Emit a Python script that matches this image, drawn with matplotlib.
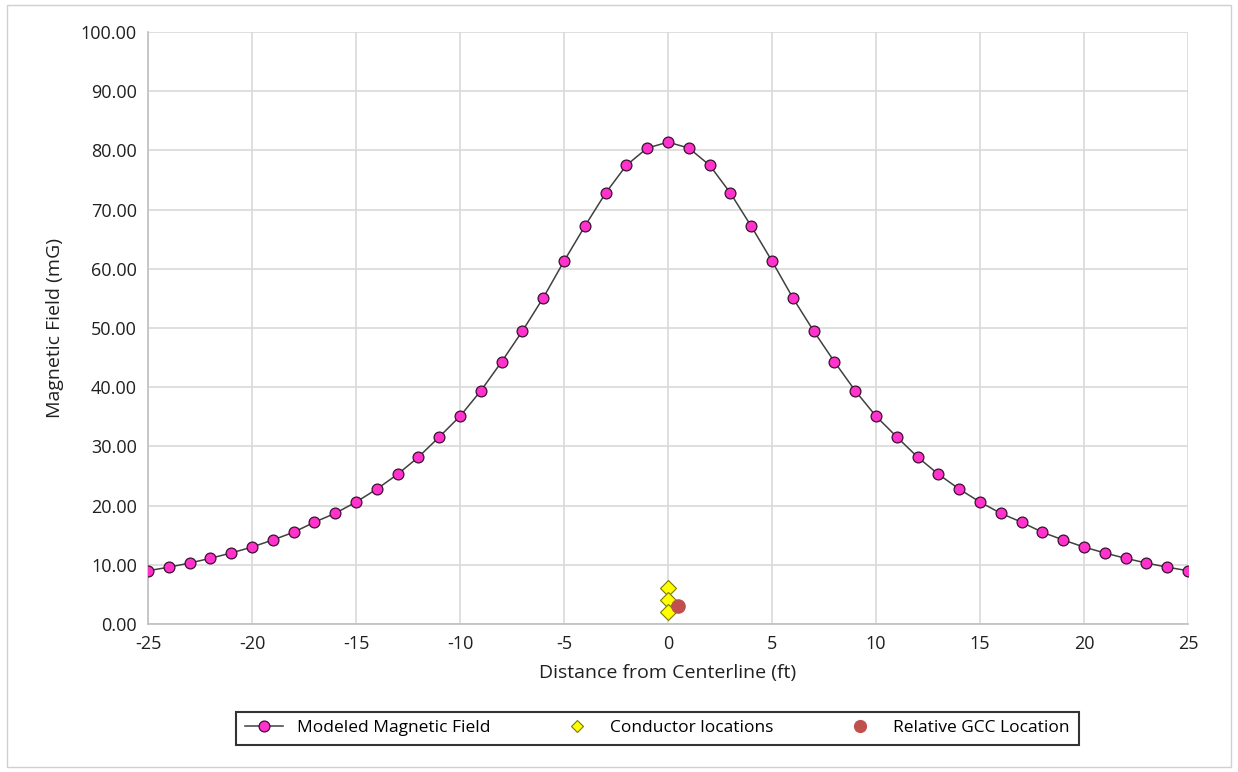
import matplotlib.pyplot as plt
from matplotlib.patches import Rectangle
import numpy as np

plt.rcParams['font.family'] = ['Open Sans', 'DejaVu Sans']
plt.rcParams['axes.unicode_minus'] = False

# modeled field profile
distance = list(range(-25, 26))
field_left = [9.0, 9.6, 10.3, 11.1, 12.0, 13.0, 14.2, 15.5, 17.2, 18.7,
              20.6, 22.8, 25.3, 28.2, 31.6, 35.1, 39.4, 44.3, 49.5, 55.1,
              61.3, 67.2, 72.8, 77.5, 80.4]
field_peak = 81.4
field = field_left + [field_peak] + field_left[::-1]

conductor_x = [0, 0, 0]
conductor_y = [6.0, 4.0, 2.0]
gcc_x = [0.5]
gcc_y = [3.0]

fig = plt.figure(figsize=(12.38, 7.72), dpi=100)
fig.add_artist(Rectangle((0.006, 0.006), 0.988, 0.988, transform=fig.transFigure,
                         fill=False, edgecolor='#d0d0d0', linewidth=1))
ax = fig.add_axes([0.1196, 0.1917, 0.84, 0.7668])

l1, = ax.plot(distance, field, color='#404040', linewidth=1.1, marker='o',
              markersize=7.8, markerfacecolor='#ff33cc', markeredgecolor='#3a1030',
              markeredgewidth=0.9, label='Modeled Magnetic Field', zorder=3)
l2, = ax.plot(conductor_x, conductor_y, linestyle='none', marker='D', markersize=8.5,
              markerfacecolor='#ffff00', markeredgecolor='#7a7a00', markeredgewidth=0.8,
              label='Conductor locations', zorder=4)
l3, = ax.plot(gcc_x, gcc_y, linestyle='none', marker='o', markersize=9.5,
              markerfacecolor='#c0504d', markeredgecolor='#c0504d',
              label='Relative GCC Location', zorder=4)

ax.set_xlim(-25, 25)
ax.set_ylim(0, 100)
ax.set_xticks(np.arange(-25, 26, 5))
ax.set_yticks(np.arange(0, 101, 10))
ax.yaxis.set_major_formatter(plt.FuncFormatter(lambda v, p: f'{v:.2f}'))
ax.grid(True, color='#d9d9d9', linewidth=1.2)
ax.set_axisbelow(True)
for s in ['top', 'right']:
    ax.spines[s].set_visible(False)
for s in ['left', 'bottom']:
    ax.spines[s].set_color('#bfbfbf')
    ax.spines[s].set_linewidth(1.2)
ax.tick_params(length=0, labelsize=13, colors='#404040', labelcolor='#202020', pad=8)
ax.set_xlabel('Distance from Centerline (ft)', fontsize=14, color='#202020', labelpad=8)
ax.set_ylabel('Magnetic Field (mG)', fontsize=14, color='#202020', labelpad=12)

leg = fig.legend(handles=[l1, l2, l3], loc='center', ncol=3,
                 bbox_to_anchor=(0.531, 0.0565), fontsize=12.5, frameon=True,
                 fancybox=False, edgecolor='black', columnspacing=3.9,
                 handlelength=2.2, borderpad=0.5)
leg.get_frame().set_linewidth(1.5)
leg.legend_handles[2].set_markersize(8.5)
leg.legend_handles[1].set_markersize(6.5)

plt.savefig('out.png', dpi=100)
plt.close(fig)
